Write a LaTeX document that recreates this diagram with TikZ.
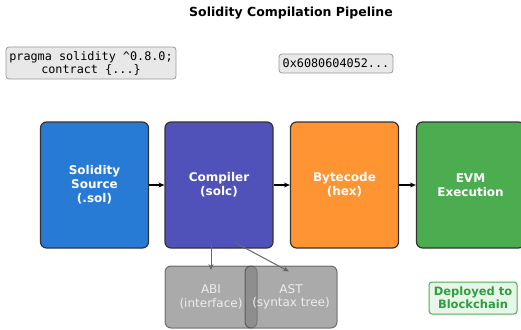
\documentclass[tikz,border=0pt]{standalone}
\usepackage{fontspec}
\setmainfont{DejaVu Sans}
\setmonofont{DejaVu Sans Mono}
\usetikzlibrary{arrows.meta,calc}
\definecolor{cblue}{HTML}{287BD4}
\definecolor{cpurple}{HTML}{5052B9}
\definecolor{corange}{HTML}{FF9433}
\definecolor{cgreen}{HTML}{4CAC50}
\definecolor{dgreen}{HTML}{2E9E3E}
\definecolor{lgreen}{HTML}{E8F5E9}
\definecolor{codebg}{HTML}{E8E8E8}
\begin{document}
\begin{tikzpicture}[x=1pt,y=-1pt,
  stage/.style={draw=black!80, line width=1.2pt, rounded corners=6pt,
    minimum width=108pt, minimum height=126pt, text=white,
    font=\bfseries\fontsize{12}{14}\selectfont, align=center, inner sep=0pt},
  outbox/.style={draw=black!75, draw opacity=0.67, fill=gray, fill opacity=0.67,
    text opacity=1, text=white!93!black, line width=1pt, rounded corners=6pt,
    minimum width=92pt, minimum height=62pt, align=center, inner sep=0pt,
    font=\fontsize{12}{13.5}\selectfont},
  codebox/.style={draw=black!40, fill=codebg, rounded corners=3pt, line width=0.8pt,
    font=\ttfamily\fontsize{11.8}{13}\selectfont, align=center, inner sep=0pt},
  flow/.style={-{Stealth[length=6pt,width=5pt]}, line width=1.3pt, black},
  side/.style={-{Stealth[length=6pt,width=5pt]}, line width=1pt, black!60}]
\useasboundingbox (0,0) rectangle (521,329);
\node[font=\bfseries\fontsize{12.5}{14}\selectfont] (title) at (291,13) {Solidity Compilation Pipeline};
\node[codebox, minimum width=170pt, minimum height=32pt] (code) at (91,63) {pragma solidity \^{}0.8.0;\\contract \{...\}};
\node[codebox, minimum width=114pt, minimum height=19pt] (hex) at (336,63.5) {0x6080604052...};
\node[stage, fill=cblue] (src) at (94.5,185) {Solidity\\Source\\(.sol)};
\node[stage, fill=cpurple] (comp) at (219,185) {Compiler\\(solc)};
\node[stage, fill=corange] (byte) at (344.5,185) {Bytecode\\(hex)};
\node[stage, fill=cgreen] (evm) at (470.5,185) {EVM\\Execution};
\draw[flow] (src.east) -- (comp.west);
\draw[flow] (comp.east) -- (byte.west);
\draw[flow] (byte.east) -- (evm.west);
\node[outbox] (abi) at (211,297) {ABI\\(interface)};
\node[outbox] (ast) at (291,297) {AST\\(syntax tree)};
\coordinate (abistart) at ($(comp.south)+(-8,-6)$);
\coordinate (aststart) at ($(comp.south)+(16,-6)$);
\draw[side] (abistart) -- (abi.north |- 0,270);
\draw[side] (aststart) -- ($(ast.north)+(-2,6)$);
\node[draw=cgreen, fill=lgreen, line width=1pt, rounded corners=3pt, text=dgreen,
  font=\bfseries\fontsize{11.5}{13}\selectfont, align=center, minimum width=88pt,
  minimum height=32pt, inner sep=0pt] (dep) at (473,298) {Deployed to\\Blockchain};
\end{tikzpicture}
\end{document}
